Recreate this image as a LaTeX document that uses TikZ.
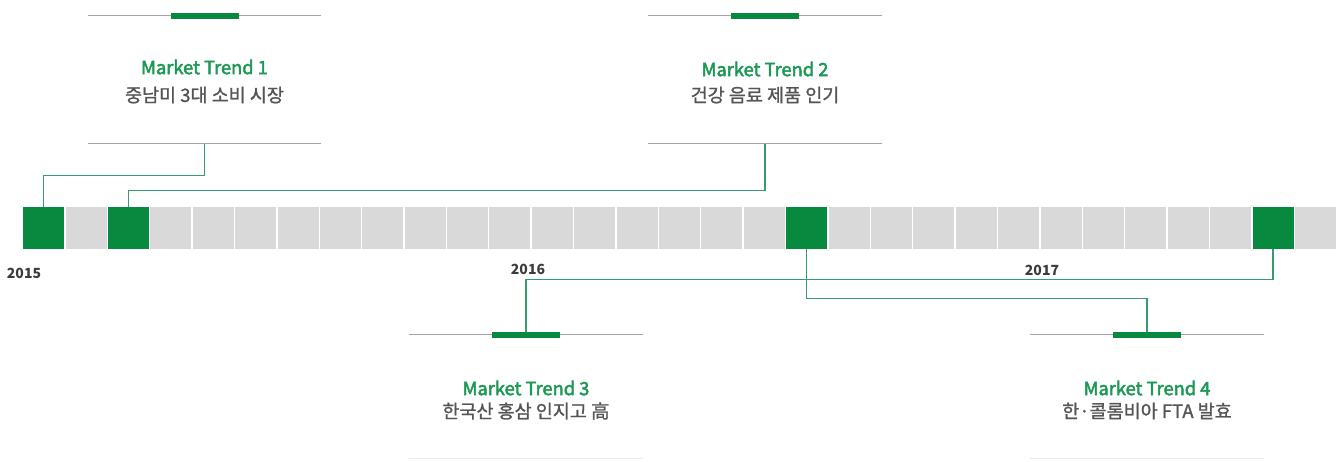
\documentclass[tikz,border=0pt]{standalone}
\usepackage{fontspec}
\setmainfont{Noto Sans CJK KR}
\newfontfamily\titlefont{Noto Sans CJK KR}[FakeBold=2.6]
\newfontfamily\subfont{Noto Sans CJK KR}[FakeBold=1.2]
\definecolor{tgreen}{RGB}{7,137,63}
\definecolor{tcell}{RGB}{217,217,217}
\definecolor{tline}{RGB}{55,155,110}
\definecolor{ttitle}{RGB}{30,152,85}
\definecolor{ttext}{RGB}{85,85,85}
\definecolor{tyear}{RGB}{60,60,60}
\definecolor{trule}{RGB}{165,165,165}
\definecolor{tfaint}{RGB}{235,235,235}
\begin{document}
\begin{tikzpicture}[x=1pt,y=-1pt,
  cell/.style={fill=tcell, minimum width=41pt, minimum height=42pt, inner sep=0pt, anchor=north west},
  hot/.style={cell, fill=tgreen},
  card/.style={minimum width=233pt, minimum height=127pt, inner sep=0pt},
  lowcard/.style={minimum width=233pt, minimum height=123pt, inner sep=0pt},
  conn/.style={draw=tline, line width=1.2pt},
  rule/.style={draw=trule, line width=1pt},
  faint/.style={draw=tfaint, line width=1pt},
  bar/.style={fill=tgreen, minimum width=68pt, minimum height=6pt, inner sep=0pt},
  title/.style={text=ttitle, font=\titlefont\fontsize{18.3}{21}\selectfont},
  sub/.style={text=ttext, font=\subfont\fontsize{18.5}{21}\selectfont},
  year/.style={text=tyear, font=\bfseries\fontsize{14}{16}\selectfont}]
\useasboundingbox (0,0) rectangle (1340,461);
% timeline cells
\foreach \i in {1,3,4,...,17,19,20,...,28,30}
  \node[cell] (c\i) at ({23+\i*42.39},207) {};
\foreach \i in {0,2,18,29}
  \node[hot] (c\i) at ({23+\i*42.39},207) {};
% cards
\node[card] (m1) at (204.5,79.5) {};
\node[card] (m2) at (765,79.5) {};
\node[lowcard] (m3) at (526,396.5) {};
\node[lowcard] (m4) at (1147,396.5) {};
% connectors
\draw[conn] (m1.south) -- ++(0,32) -| (c0.north);
\draw[conn] (m2.south) -- ++(0,47) -| (c2.north);
\draw[conn] (c18.south) -- ++(0,49) -| (m4.north);
\draw[conn] (c29.south) -- ++(0,30) -| (m3.north);
% card rules
\foreach \m in {m1,m2}{
  \draw[rule] (\m.north west) -- (\m.north east);
  \draw[rule] (\m.south west) -- (\m.south east);
  \node[bar] at (\m.north) {};
}
\foreach \m in {m3,m4}{
  \draw[rule] (\m.north west) -- (\m.north east);
  \draw[faint] (\m.south west) -- (\m.south east);
  \node[bar] at (\m.north) {};
}
% texts
\node[title] (t1) at (204.5,67) {Market Trend 1};
\node[sub] (s1) at (204.5,95) {중남미 3대 소비 시장};
\node[title] (t2) at (765,69) {Market Trend 2};
\node[sub] (s2) at (765,95) {건강 음료 제품 인기};
\node[title] (t3) at (526,388) {Market Trend 3};
\node[sub] (s3) at (526,411) {한국산 홍삼 인지고 高};
\node[title] (t4) at (1147,388) {Market Trend 4};
\node[sub] (s4) at (1147,411) {한·콜롬비아 FTA 발효};
% years
\node[year] (y1) at (24,273) {2015};
\node[year] (y2) at (528,269) {2016};
\node[year] (y3) at (1042,270) {2017};
\end{tikzpicture}
\end{document}
